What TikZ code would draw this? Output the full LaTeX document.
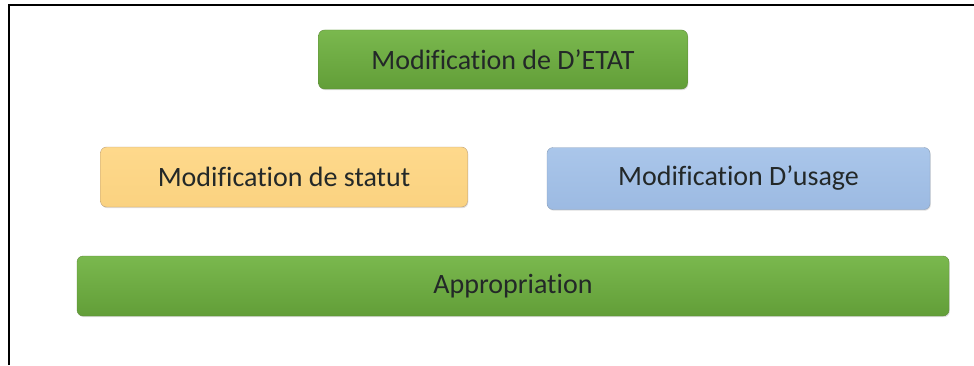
\documentclass[tikz,border=0pt]{standalone}
\usepackage{fontspec}
\setmainfont{Carlito}[Ligatures=NoCommon]
\usepackage{tikz}
\usetikzlibrary{positioning, shadows}
\usepackage{xcolor}
\definecolor{boxgreentop}{RGB}{122,184,78}
\definecolor{boxgreenbot}{RGB}{98,158,56}
\definecolor{greenline}{RGB}{96,140,60}
\definecolor{boxorange}{RGB}{254,217,140}
\definecolor{boxorangebot}{RGB}{250,210,128}
\definecolor{orangeline}{RGB}{190,160,120}
\definecolor{boxblue}{RGB}{170,198,234}
\definecolor{boxbluebot}{RGB}{156,186,226}
\definecolor{blueline}{RGB}{140,160,185}
\definecolor{darktext}{RGB}{35,40,40}
\tikzset{
  levelbox/.style={rounded corners=6pt, minimum height=60pt, font=\fontsize{28}{32}\selectfont,
    text=darktext, drop shadow={shadow xshift=0.8pt, shadow yshift=-1.2pt, opacity=0.25}},
  greenbox/.style={levelbox, draw=greenline, top color=boxgreentop, bottom color=boxgreenbot},
  orangebox/.style={levelbox, draw=orangeline, top color=boxorange, bottom color=boxorangebot},
  bluebox/.style={levelbox, draw=blueline, top color=boxblue, bottom color=boxbluebot}
}

\begin{document}
\begin{tikzpicture}[x=1pt, y=1pt]
\useasboundingbox (0,0) rectangle (974,365);
% frame
\draw[line width=2pt] (8.5,0) -- (8.5,359.5) -- (974,359.5);
% top level
\node[greenbox, minimum width=369pt, minimum height=59pt] (etat) at (503,305.5) {Modification de D’ETAT};
% middle level
\node[orangebox, minimum width=367pt] (statut) at (284,188) {Modification de statut};
\node[bluebox, minimum width=383pt, minimum height=62pt] (usage) at (738.5,186.5) {Modification D’usage};
% base
\node[greenbox, minimum width=872pt] (appro) at (513,79) {Appropriation};
\end{tikzpicture}
\end{document}
